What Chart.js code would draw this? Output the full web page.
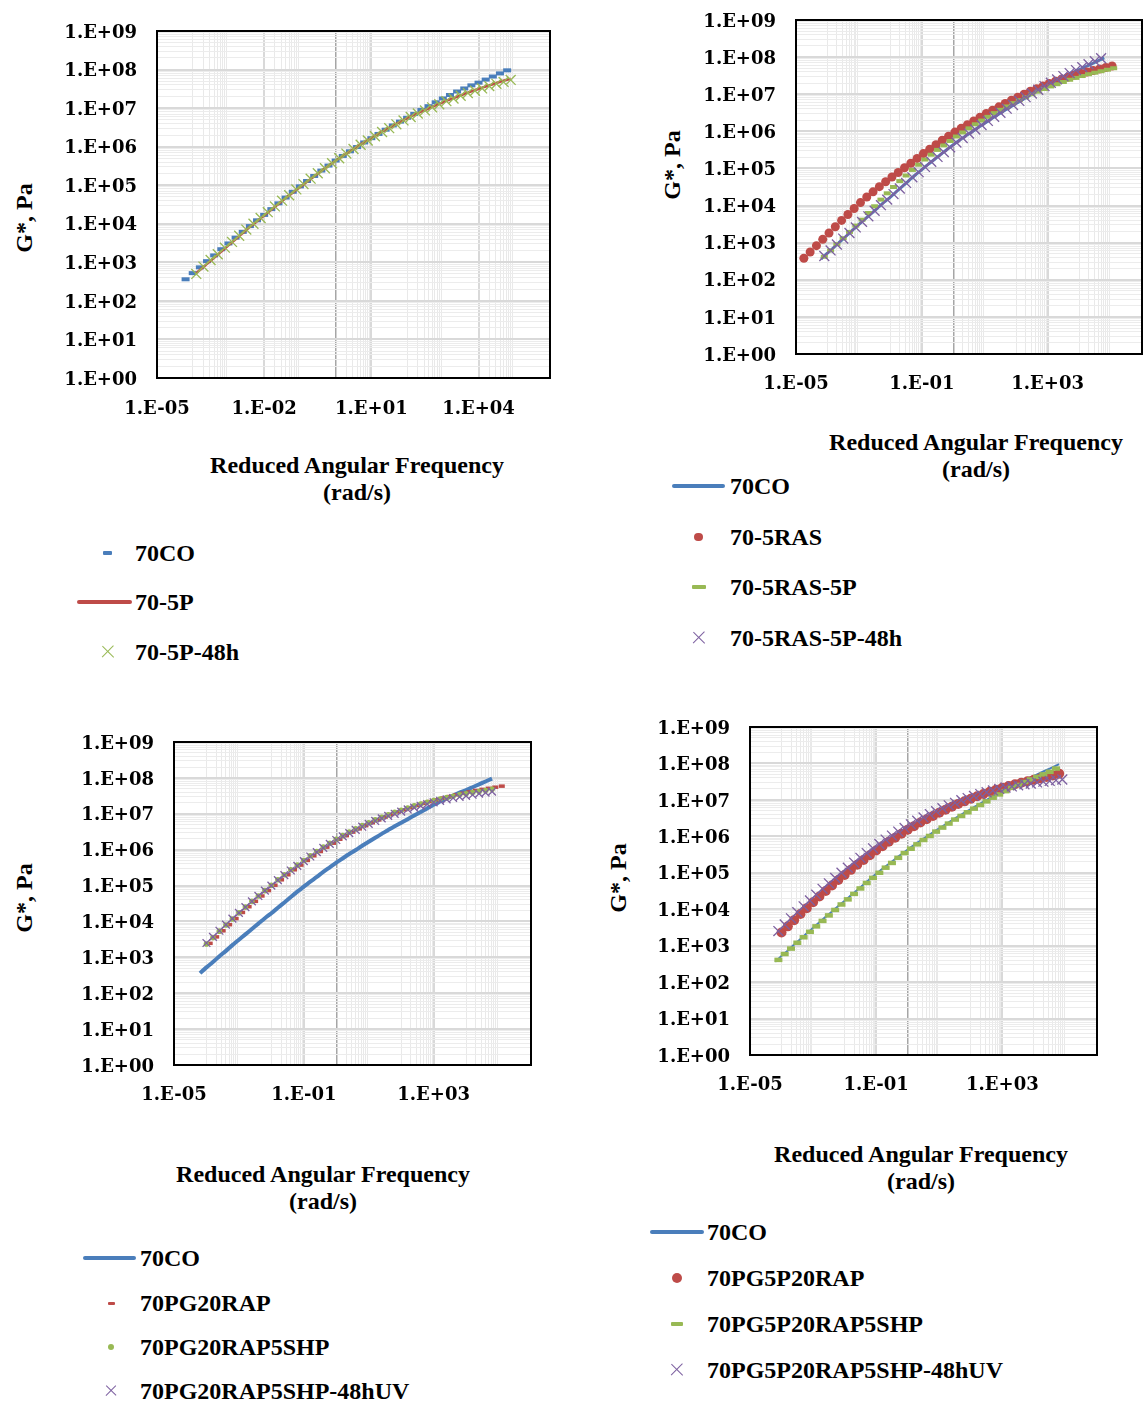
<!DOCTYPE html>
<html>
<head>
<meta charset="utf-8">
<script src="https://cdn.jsdelivr.net/npm/chart.js@4.4.1/dist/chart.umd.min.js"></script>
<style>
  html, body { margin: 0; padding: 0; background: #fff; }
  body { position: relative; width: 1143px; height: 1405px; overflow: hidden;
         font-family: "Liberation Serif", "Times New Roman", serif; font-weight: bold; color: #000; }
  .txt { position: absolute; font-size: 24px; line-height: 28px; white-space: nowrap; }
  .ytitle { position: absolute; font-size: 24px; line-height: 28px; white-space: nowrap;
            transform: translate(-50%, -50%) rotate(-90deg); }
  .xtitle { position: absolute; width: 440px; margin-left: -220px; text-align: center;
            font-size: 24px; line-height: 27px; }
  .mk { position: absolute; }
</style>
</head>
<body>
<script>
// log10 of reduced angular frequency (rad/s) and log10 of |G*| (Pa) for each binder

// 70CO (control) - same curve in all four panels
const co70W = [-4.2,-4.0,-3.8,-3.6,-3.4,-3.2,-3.0,-2.8,-2.6,-2.4,-2.2,-2.0,-1.8,-1.6,-1.4,-1.2,-1.0,-0.8,-0.6,-0.4,-0.2,0.0,0.2,0.4,0.6,0.8,1.0,1.2,1.4,1.6,1.8,2.0,2.2,2.4,2.6,2.8,3.0,3.2,3.4,3.6,3.8,4.0,4.2,4.4,4.6,4.8];
const co70G = [2.56,2.72,2.87,3.03,3.18,3.34,3.49,3.64,3.79,3.94,4.09,4.23,4.38,4.53,4.68,4.83,4.97,5.11,5.24,5.38,5.51,5.64,5.76,5.88,5.99,6.11,6.22,6.33,6.44,6.55,6.65,6.75,6.85,6.95,7.05,7.15,7.25,7.34,7.43,7.51,7.59,7.66,7.74,7.82,7.90,7.98];

// panel 1
const p5W = [-3.9,-3.7,-3.5,-3.3,-3.1,-2.9,-2.7,-2.5,-2.3,-2.1,-1.9,-1.7,-1.5,-1.3,-1.1,-0.9,-0.7,-0.5,-0.3,-0.1,0.1,0.3,0.5,0.7,0.9,1.1,1.3,1.5,1.7,1.9,2.1,2.3,2.5,2.7,2.9,3.1,3.3,3.5,3.7,3.9,4.1,4.3,4.5,4.7,4.9];
const p5G = [2.72,2.88,3.04,3.20,3.36,3.52,3.68,3.84,3.99,4.14,4.29,4.44,4.59,4.74,4.88,5.02,5.16,5.30,5.44,5.57,5.70,5.82,5.94,6.06,6.17,6.28,6.39,6.49,6.59,6.69,6.78,6.87,6.95,7.03,7.11,7.19,7.26,7.33,7.40,7.47,7.53,7.59,7.65,7.71,7.76];
const p5h48G = [2.70,2.89,3.06,3.21,3.38,3.53,3.69,3.85,4.00,4.15,4.30,4.45,4.60,4.74,4.89,5.03,5.17,5.31,5.44,5.57,5.70,5.82,5.94,6.05,6.16,6.27,6.38,6.48,6.58,6.68,6.77,6.86,6.94,7.02,7.10,7.18,7.25,7.32,7.39,7.45,7.51,7.57,7.63,7.68,7.73];

// panel 2
const ras5W = [-4.75,-4.55,-4.35,-4.15,-3.95,-3.75,-3.55,-3.35,-3.15,-2.95,-2.75,-2.55,-2.35,-2.15,-1.95,-1.75,-1.55,-1.35,-1.15,-0.95,-0.75,-0.55,-0.35,-0.15,0.05,0.25,0.45,0.65,0.85,1.05,1.25,1.45,1.65,1.85,2.05,2.25,2.45,2.65,2.85,3.05,3.25,3.45,3.65,3.85,4.05,4.25,4.45,4.65,4.85,5.05];
const ras5G = [2.58,2.75,2.92,3.09,3.26,3.43,3.60,3.76,3.92,4.08,4.23,4.37,4.51,4.64,4.77,4.89,5.02,5.14,5.27,5.40,5.52,5.64,5.76,5.87,5.98,6.08,6.18,6.28,6.38,6.48,6.57,6.66,6.75,6.84,6.92,7.00,7.08,7.15,7.22,7.29,7.35,7.41,7.46,7.51,7.56,7.60,7.64,7.68,7.72,7.76];
const ras5p5W = [-4.1,-3.9,-3.7,-3.5,-3.3,-3.1,-2.9,-2.7,-2.5,-2.3,-2.1,-1.9,-1.7,-1.5,-1.3,-1.1,-0.9,-0.7,-0.5,-0.3,-0.1,0.1,0.3,0.5,0.7,0.9,1.1,1.3,1.5,1.7,1.9,2.1,2.3,2.5,2.7,2.9,3.1,3.3,3.5,3.7,3.9,4.1,4.3,4.5,4.7,4.9,5.1];
const ras5p5G = [2.62,2.79,2.96,3.12,3.29,3.46,3.62,3.80,3.98,4.16,4.33,4.50,4.66,4.81,4.96,5.10,5.24,5.37,5.50,5.62,5.74,5.86,5.97,6.08,6.19,6.29,6.39,6.49,6.58,6.67,6.76,6.84,6.92,7.00,7.07,7.14,7.21,7.27,7.33,7.39,7.44,7.49,7.54,7.58,7.62,7.66,7.70];
const ras5p5h48W = [-4.1,-3.9,-3.7,-3.5,-3.3,-3.1,-2.9,-2.7,-2.5,-2.3,-2.1,-1.9,-1.7,-1.5,-1.3,-1.1,-0.9,-0.7,-0.5,-0.3,-0.1,0.1,0.3,0.5,0.7,0.9,1.1,1.3,1.5,1.7,1.9,2.1,2.3,2.5,2.7,2.9,3.1,3.3,3.5,3.7,3.9,4.1,4.3,4.5,4.7];
const ras5p5h48G = [2.64,2.79,2.95,3.11,3.26,3.41,3.56,3.71,3.86,4.01,4.16,4.31,4.46,4.61,4.76,4.90,5.04,5.18,5.31,5.44,5.57,5.70,5.82,5.94,6.05,6.17,6.28,6.39,6.50,6.61,6.71,6.82,6.92,7.02,7.12,7.22,7.31,7.40,7.49,7.57,7.65,7.73,7.81,7.89,7.97];

// panel 3
const pg20rapW = [-3.9,-3.7,-3.5,-3.3,-3.1,-2.9,-2.7,-2.5,-2.3,-2.1,-1.9,-1.7,-1.5,-1.3,-1.1,-0.9,-0.7,-0.5,-0.3,-0.1,0.1,0.3,0.5,0.7,0.9,1.1,1.3,1.5,1.7,1.9,2.1,2.3,2.5,2.7,2.9,3.1,3.3,3.5,3.7,3.9,4.1,4.3,4.5,4.7,4.9,5.1];
const pg20rapG = [3.39,3.57,3.74,3.91,4.08,4.25,4.41,4.56,4.71,4.86,5.01,5.16,5.30,5.44,5.57,5.70,5.83,5.95,6.07,6.18,6.29,6.39,6.49,6.58,6.67,6.75,6.83,6.91,6.98,7.05,7.11,7.17,7.23,7.29,7.34,7.39,7.44,7.48,7.53,7.57,7.61,7.65,7.68,7.71,7.74,7.77];
const pg20shpW = [-4.0,-3.8,-3.6,-3.4,-3.2,-3.0,-2.8,-2.6,-2.4,-2.2,-2.0,-1.8,-1.6,-1.4,-1.2,-1.0,-0.8,-0.6,-0.4,-0.2,0.0,0.2,0.4,0.6,0.8,1.0,1.2,1.4,1.6,1.8,2.0,2.2,2.4,2.6,2.8,3.0,3.2,3.4,3.6,3.8,4.0,4.2,4.4,4.6,4.8];
const pg20shpG = [3.37,3.55,3.73,3.90,4.07,4.24,4.40,4.56,4.71,4.86,5.01,5.16,5.30,5.44,5.57,5.70,5.83,5.95,6.07,6.18,6.29,6.39,6.49,6.58,6.67,6.75,6.83,6.90,6.97,7.04,7.10,7.16,7.22,7.27,7.32,7.37,7.41,7.45,7.49,7.53,7.56,7.59,7.62,7.65,7.68];
const pg20uvG = [3.40,3.57,3.74,3.91,4.08,4.24,4.40,4.56,4.71,4.86,5.00,5.15,5.29,5.42,5.55,5.68,5.81,5.93,6.05,6.16,6.27,6.37,6.46,6.55,6.64,6.72,6.80,6.87,6.94,7.00,7.06,7.12,7.17,7.22,7.27,7.32,7.36,7.40,7.44,7.47,7.50,7.53,7.56,7.59,7.62];

// panel 4
const pg5p20rapW = [-4.0,-3.8,-3.6,-3.4,-3.2,-3.0,-2.8,-2.6,-2.4,-2.2,-2.0,-1.8,-1.6,-1.4,-1.2,-1.0,-0.8,-0.6,-0.4,-0.2,0.0,0.2,0.4,0.6,0.8,1.0,1.2,1.4,1.6,1.8,2.0,2.2,2.4,2.6,2.8,3.0,3.2,3.4,3.6,3.8,4.0,4.2,4.4,4.6,4.8];
const pg5p20rapG = [3.36,3.53,3.70,3.87,4.03,4.19,4.35,4.50,4.65,4.80,4.94,5.08,5.22,5.35,5.48,5.61,5.73,5.85,5.96,6.07,6.18,6.28,6.38,6.47,6.56,6.65,6.73,6.81,6.89,6.96,7.03,7.10,7.16,7.22,7.28,7.33,7.38,7.43,7.47,7.51,7.55,7.59,7.63,7.67,7.72];
const pg5p20shpW = [-4.1,-3.9,-3.7,-3.5,-3.3,-3.1,-2.9,-2.7,-2.5,-2.3,-2.1,-1.9,-1.7,-1.5,-1.3,-1.1,-0.9,-0.7,-0.5,-0.3,-0.1,0.1,0.3,0.5,0.7,0.9,1.1,1.3,1.5,1.7,1.9,2.1,2.3,2.5,2.7,2.9,3.1,3.3,3.5,3.7,3.9,4.1,4.3,4.5,4.7];
const pg5p20shpG = [2.61,2.77,2.92,3.08,3.23,3.38,3.53,3.68,3.83,3.98,4.13,4.27,4.42,4.57,4.72,4.86,5.00,5.14,5.27,5.41,5.54,5.66,5.78,5.90,6.01,6.13,6.24,6.35,6.46,6.56,6.66,6.76,6.86,6.96,7.06,7.15,7.24,7.33,7.41,7.49,7.56,7.63,7.70,7.77,7.86];
const pg5p20uvW = [-4.1,-3.9,-3.7,-3.5,-3.3,-3.1,-2.9,-2.7,-2.5,-2.3,-2.1,-1.9,-1.7,-1.5,-1.3,-1.1,-0.9,-0.7,-0.5,-0.3,-0.1,0.1,0.3,0.5,0.7,0.9,1.1,1.3,1.5,1.7,1.9,2.1,2.3,2.5,2.7,2.9,3.1,3.3,3.5,3.7,3.9,4.1,4.3,4.5,4.7,4.9];
const pg5p20uvG = [3.40,3.58,3.75,3.92,4.08,4.24,4.40,4.56,4.71,4.86,5.00,5.14,5.28,5.41,5.54,5.67,5.79,5.91,6.02,6.13,6.23,6.33,6.43,6.52,6.61,6.69,6.77,6.85,6.92,6.99,7.05,7.11,7.16,7.21,7.26,7.30,7.34,7.37,7.40,7.43,7.45,7.48,7.50,7.52,7.54,7.56];

// axis ticks
const yTickValues = [1e0,1e1,1e2,1e3,1e4,1e5,1e6,1e7,1e8,1e9];
const yTickLabels = ['1.E+00','1.E+01','1.E+02','1.E+03','1.E+04','1.E+05','1.E+06','1.E+07','1.E+08','1.E+09'];
const xTickValues1 = [1e-5,1e-2,1e1,1e4];
const xTickLabels1 = ['1.E-05','1.E-02','1.E+01','1.E+04'];
const xTickValues2 = [1e-5,1e-1,1e3];
const xTickLabels2 = ['1.E-05','1.E-01','1.E+03'];

const BLUE = '#4a7ebb', RED = '#be4b48', GREEN = '#98b954', PURPLE = '#7d60a0';
const X_MIN = 1e-5, X_MAX = 1e6, Y_MIN = 1e0, Y_MAX = 1e9;

const panels = [
  {
    plot: { l: 157, t: 31, r: 550, b: 378 }, xPad: 21,
    xTicks: xTickValues1, xLabels: xTickLabels1,
    xTitle: { x: 357, y: 465 }, yTitle: { x: 24, y: 218 },
    legend: { textX: 135, markX: 107.5, lineX: [77, 132], rows: [553, 602, 652] },
    series: [
      { name: '70CO', w: co70W, g: co70G, color: BLUE, kind: 'dash', r: 4, bw: 4, lw: 9, lh: 4 },
      { name: '70-5P', w: p5W, g: p5G, color: RED, kind: 'line', bw: 2.5, lh: 3.5 },
      { name: '70-5P-48h', w: p5W, g: p5h48G, color: GREEN, kind: 'cross', r: 7, bw: 1.3, lw: 11 }
    ]
  },
  {
    plot: { l: 796, t: 20, r: 1142, b: 354 }, xPad: 20,
    xTicks: xTickValues2, xLabels: xTickLabels2,
    xTitle: { x: 976, y: 442 }, yTitle: { x: 672, y: 165 },
    legend: { textX: 730, markX: 698.5, lineX: [672, 725], rows: [486, 537, 587, 638] },
    series: [
      { name: '70CO', w: co70W, g: co70G, color: BLUE, kind: 'line', bw: 3, lh: 3.5 },
      { name: '70-5RAS', w: ras5W, g: ras5G, color: RED, kind: 'dot', r: 4.5, lw: 8.5 },
      { name: '70-5RAS-5P', w: ras5p5W, g: ras5p5G, color: GREEN, kind: 'dash', r: 3.5, bw: 4, lw: 14, lh: 3.5 },
      { name: '70-5RAS-5P-48h', w: ras5p5h48W, g: ras5p5h48G, color: PURPLE, kind: 'cross', r: 7, bw: 1.3, lw: 11 }
    ]
  },
  {
    plot: { l: 174, t: 742, r: 531, b: 1065 }, xPad: 20,
    xTicks: xTickValues2, xLabels: xTickLabels2,
    xTitle: { x: 323, y: 1174 }, yTitle: { x: 24, y: 898 },
    legend: { textX: 140, markX: 111, lineX: [83, 136], rows: [1258, 1303, 1347, 1391] },
    series: [
      { name: '70CO', w: co70W, g: co70G, color: BLUE, kind: 'line', bw: 4, lh: 3.5 },
      { name: '70PG20RAP', w: pg20rapW, g: pg20rapG, color: RED, kind: 'dash', r: 3, bw: 3.5, lw: 7, lh: 3 },
      { name: '70PG20RAP5SHP', w: pg20shpW, g: pg20shpG, color: GREEN, kind: 'dot', r: 2.8, lw: 6 },
      { name: '70PG20RAP5SHP-48hUV', w: pg20shpW, g: pg20uvG, color: PURPLE, kind: 'cross', r: 5.5, bw: 1.3, lw: 10 }
    ]
  },
  {
    plot: { l: 750, t: 727, r: 1097, b: 1055 }, xPad: 20,
    xTicks: xTickValues2, xLabels: xTickLabels2,
    xTitle: { x: 921, y: 1154 }, yTitle: { x: 618, y: 878 },
    legend: { textX: 707, markX: 677, lineX: [650, 704], rows: [1232, 1278, 1324, 1370] },
    series: [
      { name: '70CO', w: co70W, g: co70G, color: BLUE, kind: 'line', bw: 2, lh: 3.5 },
      { name: '70PG5P20RAP', w: pg5p20rapW, g: pg5p20rapG, color: RED, kind: 'dot', r: 5, lw: 10 },
      { name: '70PG5P20RAP5SHP', w: pg5p20shpW, g: pg5p20shpG, color: GREEN, kind: 'dash', r: 4, bw: 4.5, lw: 12, lh: 4 },
      { name: '70PG5P20RAP5SHP-48hUV', w: pg5p20uvW, g: pg5p20uvG, color: PURPLE, kind: 'cross', r: 7, bw: 1.3, lw: 11 }
    ]
  }
];

const sameLog = (a, b) => Math.abs(Math.log10(a) - Math.log10(b)) < 1e-6;

// vertical grid: major lines at the labelled ticks, minor bands in every other decade
function xGridValues(majors) {
  const vals = majors.slice();
  for (const n of [-4, -2, 0, 2, 4]) {
    for (let k = 1; k <= 9; k++) vals.push(k * Math.pow(10, n));
  }
  vals.push(X_MAX);
  return dedupe(vals);
}

// horizontal grid: every decade plus 2..9 in between
function yGridValues() {
  const vals = yTickValues.slice();
  for (let n = 0; n < 9; n++) {
    for (let k = 2; k <= 9; k++) vals.push(k * Math.pow(10, n));
  }
  return dedupe(vals);
}

function dedupe(vals) {
  vals.sort((a, b) => a - b);
  return vals.filter((v, i) => i === 0 || !sameLog(v, vals[i - 1]));
}

function labelFor(v, values, labels) {
  const i = values.findIndex(m => sameLog(m, v));
  return i >= 0 ? labels[i] : '';
}

function xLineStyle(v, majors) {
  if (sameLog(v, 1)) return { color: '#a6a6a6', width: 1.5 };
  if (majors.some(m => sameLog(m, v))) return { color: '#d9d9d9', width: 2 };
  return { color: '#e9e9e9', width: 1 };
}

function yLineStyle(v) {
  if (yTickValues.some(m => sameLog(m, v))) return { color: '#d9d9d9', width: 2 };
  return { color: '#ececec', width: 1 };
}

function toDataset(s, i) {
  const data = s.w.map((w, j) => ({ x: Math.pow(10, w), y: Math.pow(10, s.g[j]) }));
  const ds = { label: s.name, data, order: -i, borderColor: s.color, backgroundColor: s.color,
               pointHoverRadius: 0 };
  if (s.kind === 'line') {
    Object.assign(ds, { showLine: true, borderWidth: s.bw, pointRadius: 0, tension: 0.2 });
  } else if (s.kind === 'dash') {
    Object.assign(ds, { showLine: false, pointStyle: 'line', pointRadius: s.r, pointBorderWidth: s.bw });
  } else if (s.kind === 'dot') {
    Object.assign(ds, { showLine: false, pointStyle: 'circle', pointRadius: s.r, pointBorderWidth: 0 });
  } else {
    Object.assign(ds, { showLine: false, pointStyle: 'crossRot', pointRadius: s.r, pointBorderWidth: s.bw });
  }
  return ds;
}

// black border round the plot area
const framePlugin = {
  id: 'frame',
  afterDraw(chart) {
    const { ctx, chartArea: a } = chart;
    ctx.save();
    ctx.strokeStyle = '#000';
    ctx.lineWidth = 2;
    ctx.strokeRect(a.left, a.top, a.right - a.left, a.bottom - a.top);
    ctx.restore();
  }
};

const tickFont = { family: 'DejaVu Serif', size: 18, weight: 'bold' };
const Y_AXIS_W = 110, PAD_T = 40, PAD_R = 30, X_AXIS_H = 50;

function addEl(cls, css, text) {
  const el = document.createElement('div');
  el.className = cls;
  el.style.cssText = css;
  if (text !== undefined) el.textContent = text;
  document.body.appendChild(el);
  return el;
}

function drawLegend(p) {
  const lg = p.legend;
  p.series.forEach((s, i) => {
    const y = lg.rows[i];
    if (s.kind === 'line') {
      addEl('mk', `left:${lg.lineX[0]}px;top:${y - s.lh / 2}px;width:${lg.lineX[1] - lg.lineX[0]}px;height:${s.lh}px;background:${s.color};border-radius:2px;`);
    } else if (s.kind === 'dash') {
      addEl('mk', `left:${lg.markX - s.lw / 2}px;top:${y - s.lh / 2}px;width:${s.lw}px;height:${s.lh}px;background:${s.color};border-radius:1px;`);
    } else if (s.kind === 'dot') {
      addEl('mk', `left:${lg.markX - s.lw / 2}px;top:${y - s.lw / 2}px;width:${s.lw}px;height:${s.lw}px;background:${s.color};border-radius:50%;`);
    } else {
      const len = s.lw * 1.41;
      for (const ang of [45, -45]) {
        addEl('mk', `left:${lg.markX - len / 2}px;top:${y - 0.7}px;width:${len}px;height:1.4px;background:${s.color};transform:rotate(${ang}deg);`);
      }
    }
    addEl('txt', `left:${lg.textX}px;top:${y - 14}px;`, s.name);
  });
}

function drawPanel(p) {
  const w = p.plot.r - p.plot.l, h = p.plot.b - p.plot.t;
  const cv = document.createElement('canvas');
  cv.width = w + Y_AXIS_W + PAD_R;
  cv.height = h + PAD_T + X_AXIS_H;
  cv.style.cssText = `position:absolute;left:${p.plot.l - Y_AXIS_W}px;top:${p.plot.t - PAD_T}px;width:${cv.width}px;height:${cv.height}px;`;
  document.body.appendChild(cv);

  const xGrid = xGridValues(p.xTicks);
  const yGrid = yGridValues();

  new Chart(cv, {
    type: 'scatter',
    data: { datasets: p.series.map(toDataset) },
    options: {
      responsive: false,
      animation: false,
      devicePixelRatio: 1,
      layout: { padding: { left: 0, top: PAD_T, right: PAD_R, bottom: 0 } },
      plugins: { legend: { display: false }, tooltip: { enabled: false } },
      scales: {
        x: {
          type: 'logarithmic', min: X_MIN, max: X_MAX,
          afterBuildTicks: s => { s.ticks = xGrid.map(v => ({ value: v })); },
          afterFit: s => { s.height = X_AXIS_H; },
          border: { display: false },
          grid: {
            drawTicks: false,
            color: c => xLineStyle(c.tick.value, p.xTicks).color,
            lineWidth: c => xLineStyle(c.tick.value, p.xTicks).width
          },
          ticks: {
            autoSkip: false, maxRotation: 0, minRotation: 0, padding: p.xPad,
            color: '#000', font: tickFont,
            callback: v => labelFor(v, p.xTicks, p.xLabels)
          }
        },
        y: {
          type: 'logarithmic', min: Y_MIN, max: Y_MAX,
          afterBuildTicks: s => { s.ticks = yGrid.map(v => ({ value: v })); },
          afterFit: s => { s.width = Y_AXIS_W; },
          border: { display: false },
          grid: {
            drawTicks: false,
            color: c => yLineStyle(c.tick.value).color,
            lineWidth: c => yLineStyle(c.tick.value).width
          },
          ticks: {
            autoSkip: false, padding: 20, labelOffset: 2,
            color: '#000', font: tickFont,
            callback: v => labelFor(v, yTickValues, yTickLabels)
          }
        }
      }
    },
    plugins: [framePlugin]
  });

  addEl('xtitle', `left:${p.xTitle.x}px;top:${p.xTitle.y - 13.5}px;`).innerHTML =
    'Reduced Angular Frequency<br>(rad/s)';
  addEl('ytitle', `left:${p.yTitle.x}px;top:${p.yTitle.y}px;`, 'G*, Pa');
  drawLegend(p);
}

panels.forEach(drawPanel);
</script>
</body>
</html>
